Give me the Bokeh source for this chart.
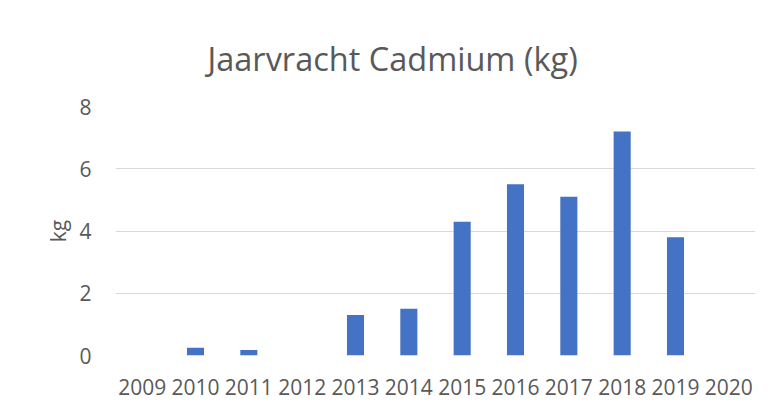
from bokeh.plotting import figure
from bokeh.models import FactorRange, Range1d
from bokeh.embed import file_html
from bokeh.resources import INLINE

years = ["2009", "2010", "2011", "2012", "2013", "2014", "2015", "2016", "2017", "2018", "2019", "2020"]
cadmium_kg = [0, 0.25, 0.18, 0, 1.3, 1.5, 4.3, 5.5, 5.1, 7.2, 3.8, 0]
title_text = "Jaarvracht Cadmium (kg)"
y_ticks = [0, 2, 4, 6, 8]

FONT = "Open Sans"
TXT = "#595959"

p = figure(width=770, height=402, x_range=FactorRange(*years), y_range=Range1d(0, 8),
           output_backend="svg", toolbar_location=None, title=title_text,
           min_border_left=115, min_border_right=15, min_border_top=106, min_border_bottom=47)

p.vbar(x=years, top=cadmium_kg, width=0.32, fill_color="#4472C4", line_color=None)

p.title.align = "left"
p.title.offset = 92
p.title.standoff = 51
p.title.text_font = FONT
p.title.text_font_size = "32.5px"
p.title.text_font_style = "normal"
p.title.text_color = TXT

p.outline_line_color = None
p.xgrid.grid_line_color = None
p.ygrid.grid_line_color = "#d9d9d9"
p.ygrid.grid_line_width = 1

p.yaxis.ticker = y_ticks
for ax in (p.xaxis, p.yaxis):
    ax.axis_line_color = None
    ax.major_tick_line_color = None
    ax.minor_tick_line_color = None
    ax.major_label_text_font = FONT
    ax.major_label_text_font_size = "21px"
    ax.major_label_text_color = TXT
p.yaxis.major_label_standoff = 18
p.xaxis.major_label_standoff = 17
p.yaxis.axis_label = "kg"
p.yaxis.axis_label_text_font = FONT
p.yaxis.axis_label_text_font_size = "21px"
p.yaxis.axis_label_text_font_style = "normal"
p.yaxis.axis_label_text_color = TXT
p.yaxis.axis_label_standoff = 4

open("out.html", "w").write(file_html(p, INLINE))
